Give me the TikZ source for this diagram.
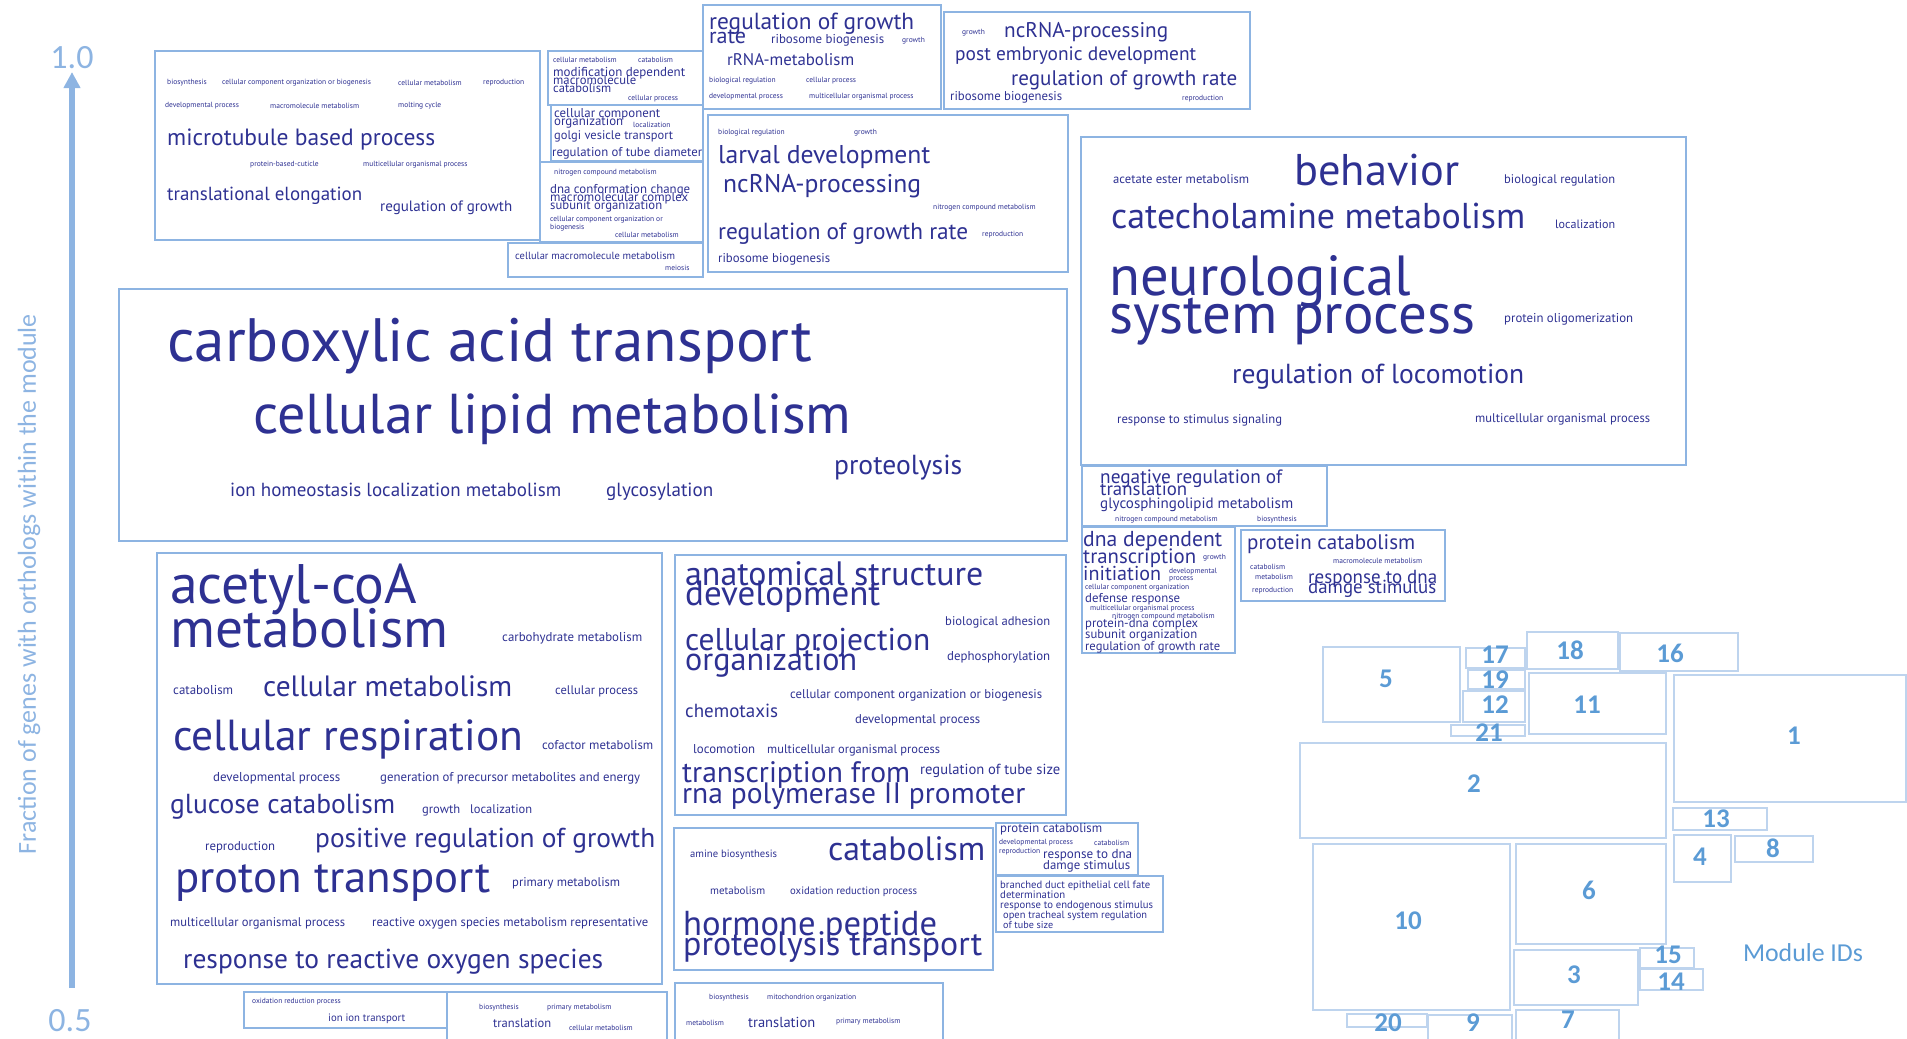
\documentclass[tikz,border=0pt]{standalone}
\usepackage{fontspec}
\setmainfont{PT Sans}
\newfontfamily\calfont{Carlito}
\usepackage{graphicx}
\usetikzlibrary{arrows.meta}
\definecolor{termblue}{RGB}{46,49,146}
\definecolor{cloudblue}{RGB}{141,180,226}
\definecolor{modblue}{RGB}{190,212,238}
\definecolor{idblue}{RGB}{91,155,213}
\newcommand{\fitw}[2]{\resizebox{#1pt}{!}{#2}}
\newcommand{\stackterm}[2]{\vtop{\baselineskip=#1pt\lineskiplimit=-\maxdimen\lineskip=0pt #2}}

\begin{document}
\begin{tikzpicture}[x=1pt, y=-1pt,
  term/.style={anchor=base west, inner sep=0pt, text=termblue},
  minor/.style={anchor=west, inner sep=0pt, text=termblue, font=\fontsize{7.5}{8}\selectfont},
  cloud/.style={draw=cloudblue, line width=1.6pt},
  module/.style={draw=modblue, line width=1.2pt},
  modid/.style={text=idblue, font=\calfont\bfseries\fontsize{27}{27}\selectfont}]
  \useasboundingbox (0,0) rectangle (1907,1039);

  % Draw the axis
  \coordinate (ax0) at (72,988);
  \coordinate (ax1) at (72,72);
  \draw[cloudblue, line width=6pt, -{Triangle[length=16pt, width=16pt]}] (ax0) -- (ax1);
  \node[text=cloudblue, font=\calfont\fontsize{34}{34}\selectfont] (one) at (72,58) {1.0};
  \node[text=cloudblue, font=\calfont\fontsize{34}{34}\selectfont] (half) at (70,1021) {0.5};
  \node[text=cloudblue, rotate=90, inner sep=0pt] (ylab) at (29,584) {\calfont\fitw{540}{Fraction of genes with orthologs within the module}};

  % Box: microtubule based process
  \draw[cloud] (155,51) rectangle (540,240);
  \node[minor] (a1) at (167,83) {biosynthesis};
  \node[minor] (a2) at (222,83) {cellular component organization or biogenesis};
  \node[minor] (a3) at (398,83) {cellular metabolism};
  \node[minor] (a4) at (483,83) {reproduction};
  \node[minor] (a5) at (165,106) {developmental process};
  \node[minor] (a6) at (270,106) {macromolecule metabolism};
  \node[minor] (a7) at (398,106) {molting cycle};
  \node[term] (a8) at (167,145) {\fitw{268}{microtubule based process}};
  \node[minor] (a9) at (250,165) {protein-based-cuticle};
  \node[minor] (a10) at (363,165) {multicellular organismal process};
  \node[term] (a11) at (167,200) {\fitw{195}{translational elongation}};
  \node[term] (a12) at (380,211) {\fitw{132}{regulation of growth}};

  % Box: modification dependent macromolecule catabolism
  \draw[cloud] (548,51) rectangle (703,105);
  \node[minor] (b1) at (553,60) {cellular metabolism};
  \node[minor] (b2) at (638,60) {catabolism};
  \node[term] (b3) at (553,76) {\stackterm{8}{\hbox{\fitw{132}{modification dependent}}\hbox{\fitw{83}{macromolecule}}\hbox{\fitw{58}{catabolism}}}};
  \node[minor] (b6) at (628,99) {cellular process};

  % Box: cellular component organization
  \draw[cloud] (551,105) rectangle (703,161);
  \node[term] (c1) at (554,117) {\fitw{106}{cellular component}};
  \node[term] (c2) at (554,125) {\fitw{69}{organization}};
  \node[minor] (c3) at (633,125) {localization};
  \node[term] (c4) at (554,139) {\fitw{119}{golgi vesicle transport}};
  \node[term] (c5) at (552,156) {\fitw{150}{regulation of tube diameter}};

  % Box: dna conformation change
  \draw[cloud] (540,162) rectangle (703,242);
  \node[minor] (d1) at (554,173) {nitrogen compound metabolism};
  \node[term] (d2) at (550,193) {\stackterm{8}{\hbox{\fitw{140}{dna conformation change}}\hbox{\fitw{138}{macromolecular complex}}\hbox{\fitw{112}{subunit organization}}}};
  \node[minor, anchor=base west] (d5) at (550,221) {\stackterm{8}{\hbox{cellular component organization or}\hbox{biogenesis}}};
  \node[minor] (d7) at (615,235) {cellular metabolism};

  % Box: cellular macromolecule metabolism
  \draw[cloud] (508,243) rectangle (703,277);
  \node[term] (e1) at (515,259) {\fitw{160}{cellular macromolecule metabolism}};
  \node[minor] (e2) at (665,268) {meiosis};

  % Box: regulation of growth rate (top)
  \draw[cloud] (703,5) rectangle (941,109);
  \node[term] (f1) at (709,29) {\fitw{205}{regulation of growth}};
  \node[term] (f2) at (709,43) {\fitw{37}{rate}};
  \node[term] (f3) at (771,43) {\fitw{113}{ribosome biogenesis}};
  \node[minor] (f4) at (902,41) {growth};
  \node[term] (f5) at (727,65) {\fitw{127}{rRNA-metabolism}};
  \node[minor] (f6) at (709,81) {biological regulation};
  \node[minor] (f7) at (806,81) {cellular process};
  \node[minor] (f8) at (709,97) {developmental process};
  \node[minor] (f9) at (809,97) {multicellular organismal process};

  % Box: ncRNA-processing (top)
  \draw[cloud] (944,12) rectangle (1250,109);
  \node[minor] (g1) at (962,33) {growth};
  \node[term] (g2) at (1004,37) {\fitw{164}{ncRNA-processing}};
  \node[term] (g3) at (955,60) {\fitw{241}{post embryonic development}};
  \node[term] (g4) at (1011,85) {\fitw{226}{regulation of growth rate}};
  \node[term] (g5) at (950,100) {\fitw{112}{ribosome biogenesis}};
  \node[minor] (g6) at (1182,99) {reproduction};

  % Box: larval development
  \draw[cloud] (708,115) rectangle (1068,272);
  \node[minor] (h1) at (718,133) {biological regulation};
  \node[minor] (h2) at (854,133) {growth};
  \node[term] (h3) at (718,163) {\fitw{212}{larval development}};
  \node[term] (h4) at (723,192) {\fitw{198}{ncRNA-processing}};
  \node[minor] (h5) at (933,208) {nitrogen compound metabolism};
  \node[term] (h6) at (718,239) {\fitw{250}{regulation of growth rate}};
  \node[minor] (h7) at (982,235) {reproduction};
  \node[term] (h8) at (718,262) {\fitw{112}{ribosome biogenesis}};

  % Box: carboxylic acid transport
  \draw[cloud] (119,289) rectangle (1067,541);
  \node[term] (i1) at (167,361) {\fitw{645}{carboxylic acid transport}};
  \node[term] (i2) at (253,433) {\fitw{598}{cellular lipid metabolism}};
  \node[term] (i3) at (834,474) {\fitw{128}{proteolysis}};
  \node[term] (i4) at (230,496) {\fitw{331}{ion homeostasis localization metabolism}};
  \node[term] (i5) at (606,496) {\fitw{107}{glycosylation}};

  % Box: behavior
  \draw[cloud] (1081,137) rectangle (1686,465);
  \node[term] (j1) at (1113,183) {\fitw{136}{acetate ester metabolism}};
  \node[term] (j2) at (1294,185) {\fitw{165}{behavior}};
  \node[term] (j3) at (1504,183) {\fitw{111}{biological regulation}};
  \node[term] (j4) at (1111,228) {\fitw{414}{catecholamine metabolism}};
  \node[term] (j5) at (1555,228) {\fitw{60}{localization}};
  \node[term] (j6) at (1109,295) {\stackterm{38}{\hbox{\fitw{302}{neurological}}\hbox{\fitw{366}{system process}}}};
  \node[term] (j8) at (1504,322) {\fitw{129}{protein oligomerization}};
  \node[term] (j9) at (1232,383) {\fitw{292}{regulation of locomotion}};
  \node[term] (j10) at (1117,423) {\fitw{165}{response to stimulus signaling}};
  \node[term] (j11) at (1475,422) {\fitw{175}{multicellular organismal process}};

  % Box: negative regulation of translation
  \draw[cloud] (1082,466) rectangle (1327,526);
  \node[term] (k1) at (1100,483) {\stackterm{12.5}{\hbox{\fitw{182}{negative regulation of}}\hbox{\fitw{87}{translation}}\hbox{\fitw{193}{glycosphingolipid metabolism}}}};
  \node[minor] (k4) at (1115,520) {nitrogen compound metabolism};
  \node[minor] (k5) at (1257,520) {biosynthesis};

  % Box: dna dependent transcription initiation
  \draw[cloud] (1082,527) rectangle (1235,653);
  \node[term] (l1) at (1083,546) {\fitw{139}{dna dependent}};
  \node[term] (l2) at (1083,563) {\fitw{113}{transcription}};
  \node[minor] (l3) at (1203,558) {growth};
  \node[term] (l4) at (1083,580) {\fitw{78}{initiation}};
  \node[minor, anchor=base west] (l5) at (1169,573) {\stackterm{7}{\hbox{developmental}\hbox{process}}};
  \node[minor] (l7) at (1085,588) {cellular component organization};
  \node[term] (l8) at (1085,602) {\fitw{95}{defense response}};
  \node[minor] (l9) at (1090,609) {multicellular organismal process};
  \node[minor] (l10) at (1112,617) {nitrogen compound metabolism};
  \node[term] (l11) at (1085,627) {\stackterm{11.5}{\hbox{\fitw{113}{protein-dna complex}}\hbox{\fitw{112}{subunit organization}}\hbox{\fitw{135}{regulation of growth rate}}}};

  % Box: protein catabolism
  \draw[cloud] (1241,530) rectangle (1445,601);
  \node[term] (m1) at (1247,549) {\fitw{168}{protein catabolism}};
  \node[minor] (m2) at (1333,561) {macromolecule metabolism};
  \node[minor] (m3) at (1250,567) {catabolism};
  \node[minor] (m4) at (1255,577) {metabolism};
  \node[minor] (m5) at (1252,591) {reproduction};
  \node[term] (m6) at (1308,583) {\stackterm{10}{\hbox{\fitw{129}{response to dna}}\hbox{\fitw{128}{damge stimulus}}}};

  % Box: acetyl-coA metabolism
  \draw[cloud] (157,553) rectangle (662,984);
  \node[term] (n1) at (170,603) {\stackterm{44}{\hbox{\fitw{247}{acetyl-coA}}\hbox{\fitw{278}{metabolism}}}};
  \node[term] (n3) at (502,641) {\fitw{140}{carbohydrate metabolism}};
  \node[term] (n4) at (173,694) {\fitw{60}{catabolism}};
  \node[term] (n5) at (263,696) {\fitw{249}{cellular metabolism}};
  \node[term] (n6) at (555,694) {\fitw{83}{cellular process}};
  \node[term] (n7) at (173,750) {\fitw{350}{cellular respiration}};
  \node[term] (n8) at (542,749) {\fitw{111}{cofactor metabolism}};
  \node[term] (n9) at (213,781) {\fitw{127}{developmental process}};
  \node[term] (n10) at (380,781) {\fitw{260}{generation of precursor metabolites and energy}};
  \node[term] (n11) at (170,813) {\fitw{225}{glucose catabolism}};
  \node[term] (n12) at (422,813) {\fitw{38}{growth}};
  \node[term] (n13) at (470,813) {\fitw{62}{localization}};
  \node[term] (n14) at (205,850) {\fitw{70}{reproduction}};
  \node[term] (n15) at (315,847) {\fitw{340}{positive regulation of growth}};
  \node[term] (n16) at (175,892) {\fitw{315}{proton transport}};
  \node[term] (n17) at (512,886) {\fitw{108}{primary metabolism}};
  \node[term] (n18) at (170,926) {\fitw{175}{multicellular organismal process}};
  \node[term] (n19) at (372,926) {\fitw{276}{reactive oxygen species metabolism representative}};
  \node[term] (n20) at (183,968) {\fitw{420}{response to reactive oxygen species}};

  % Box: anatomical structure development
  \draw[cloud] (675,555) rectangle (1066,815);
  \node[term] (o1) at (685,585) {\stackterm{20}{\hbox{\fitw{298}{anatomical structure}}\hbox{\fitw{195}{development}}}};
  \node[term] (o3) at (945,625) {\fitw{105}{biological adhesion}};
  \node[term] (o4) at (685,650) {\stackterm{20}{\hbox{\fitw{245}{cellular projection}}\hbox{\fitw{172}{organization}}}};
  \node[term] (o6) at (947,660) {\fitw{103}{dephosphorylation}};
  \node[term] (o7) at (790,698) {\fitw{252}{cellular component organization or biogenesis}};
  \node[term] (o8) at (685,717) {\fitw{93}{chemotaxis}};
  \node[term] (o9) at (855,723) {\fitw{125}{developmental process}};
  \node[term] (o10) at (693,753) {\fitw{62}{locomotion}};
  \node[term] (o11) at (767,753) {\fitw{173}{multicellular organismal process}};
  \node[term] (o12) at (682,782) {\fitw{228}{transcription from}};
  \node[term] (o13) at (682,803) {\fitw{343}{rna polymerase II promoter}};
  \node[term] (o14) at (920,774) {\fitw{140}{regulation of tube size}};

  % Box: catabolism
  \draw[cloud] (674,828) rectangle (993,970);
  \node[term] (p1) at (690,857) {\fitw{87}{amine biosynthesis}};
  \node[term] (p2) at (828,860) {\fitw{157}{catabolism}};
  \node[term] (p3) at (710,894) {\fitw{55}{metabolism}};
  \node[term] (p4) at (790,894) {\fitw{127}{oxidation reduction process}};
  \node[term] (p5) at (683,935) {\stackterm{20}{\hbox{\fitw{254}{hormone peptide}}\hbox{\fitw{299}{proteolysis transport}}}};

  % Box: protein catabolism (small)
  \draw[cloud] (996,823) rectangle (1138,875);
  \node[term] (q1) at (1000,832) {\fitw{102}{protein catabolism}};
  \node[minor] (q2) at (999,843) {developmental process};
  \node[minor] (q3) at (1094,843) {catabolism};
  \node[minor] (q4) at (999,852) {reproduction};
  \node[term] (q5) at (1043,858) {\stackterm{11}{\hbox{\fitw{89}{response to dna}}\hbox{\fitw{87}{damge stimulus}}}};

  % Box: branched duct epithelial cell fate determination
  \draw[cloud] (996,876) rectangle (1163,932);
  \node[term] (r1) at (1000,888) {\stackterm{10}{\hbox{\fitw{150}{branched duct epithelial cell fate}}\hbox{\fitw{65}{determination}}\hbox{\fitw{153}{response to endogenous stimulus}}\hbox{\hspace{3pt}\fitw{144}{open tracheal system regulation}}\hbox{\hspace{3pt}\fitw{50}{of tube size}}}};

  % Bottom strip boxes
  \draw[cloud] (675,983) rectangle (943,1045);
  \node[minor] (s1) at (709,998) {biosynthesis};
  \node[minor] (s2) at (767,998) {mitochondrion organization};
  \node[minor] (s3) at (686,1023) {metabolism};
  \node[term] (s4) at (748,1027) {\fitw{67}{translation}};
  \node[minor] (s5) at (836,1022) {primary metabolism};

  \draw[cloud] (244,992) rectangle (447,1028);
  \node[minor] (t1) at (252,1002) {oxidation reduction process};
  \node[term] (t2) at (328,1021) {\fitw{77}{ion ion transport}};

  \draw[cloud] (447,992) rectangle (667,1045);
  \node[minor] (u1) at (479,1008) {biosynthesis};
  \node[minor] (u2) at (547,1008) {primary metabolism};
  \node[term] (u3) at (493,1027) {\fitw{58}{translation}};
  \node[minor] (u4) at (569,1028) {cellular metabolism};

  % Draw the module ID map
  \draw[module] (1323,647) rectangle (1460,722);
  \node[modid] (id5) at (1386,679) {5};
  \draw[module] (1466,648) rectangle (1525,668);
  \node[modid] (id17) at (1495,655) {17};
  \draw[module] (1468,670) rectangle (1525,689);
  \node[modid] (id19) at (1495,680) {19};
  \draw[module] (1463,691) rectangle (1525,722);
  \node[modid] (id12) at (1495,705) {12};
  \draw[module] (1451,725) rectangle (1525,736);
  \node[modid] (id21) at (1489,733) {21};
  \draw[module] (1527,632) rectangle (1618,669);
  \node[modid] (id18) at (1570,650) {18};
  \draw[module] (1620,633) rectangle (1738,671);
  \node[modid] (id16) at (1670,653) {16};
  \draw[module] (1529,673) rectangle (1666,734);
  \node[modid] (id11) at (1587,705) {11};
  \draw[module] (1674,675) rectangle (1906,802);
  \node[modid] (id1) at (1794,736) {1};
  \draw[module] (1300,743) rectangle (1666,838);
  \node[modid] (id2) at (1474,784) {2};
  \draw[module] (1673,808) rectangle (1767,830);
  \node[modid] (id13) at (1716,819) {13};
  \draw[module] (1674,835) rectangle (1731,882);
  \node[modid] (id4) at (1700,857) {4};
  \draw[module] (1735,836) rectangle (1813,862);
  \node[modid] (id8) at (1773,848) {8};
  \draw[module] (1313,844) rectangle (1510,1010);
  \node[modid] (id10) at (1408,921) {10};
  \draw[module] (1516,844) rectangle (1666,944);
  \node[modid] (id6) at (1589,890) {6};
  \draw[module] (1514,950) rectangle (1638,1005);
  \node[modid] (id3) at (1574,975) {3};
  \draw[module] (1640,948) rectangle (1694,968);
  \node[modid] (id15) at (1668,955) {15};
  \draw[module] (1640,969) rectangle (1703,990);
  \node[modid] (id14) at (1671,982) {14};
  \draw[module] (1347,1014) rectangle (1427,1027);
  \node[modid] (id20) at (1388,1023) {20};
  \draw[module] (1428,1015) rectangle (1512,1045);
  \node[modid] (id9) at (1473,1023) {9};
  \draw[module] (1516,1010) rectangle (1619,1045);
  \node[modid] (id7) at (1568,1020) {7};
  \node[text=idblue, inner sep=0pt] (modlab) at (1803,953) {\calfont\fitw{120}{Module IDs}};
\end{tikzpicture}
\end{document}
